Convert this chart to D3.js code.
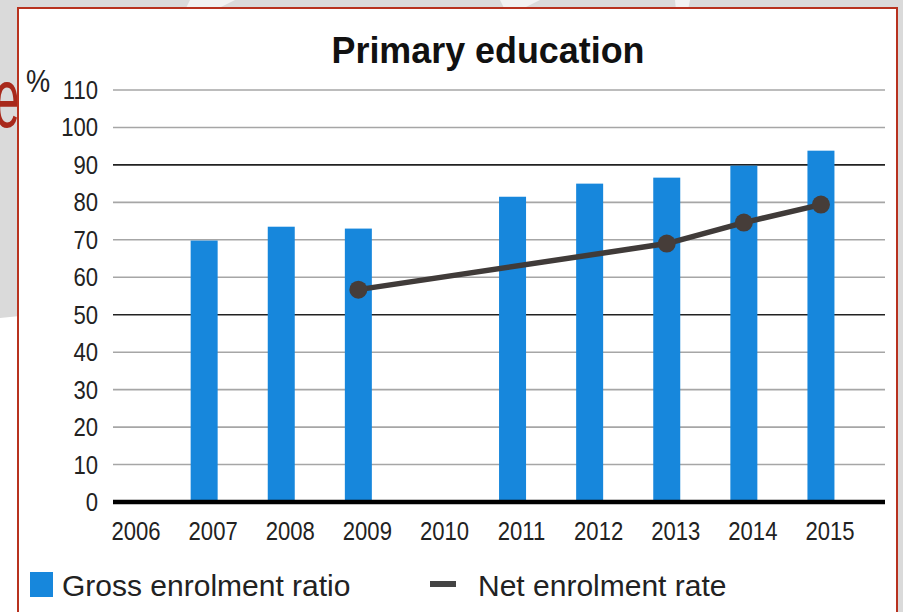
<!DOCTYPE html>
<html>
<head>
<meta charset="utf-8">
<script src="https://cdn.jsdelivr.net/npm/d3@7/dist/d3.min.js"></script>
<style>
  html, body { margin: 0; padding: 0; background: #d9d9d9; }
  svg { display: block; }
  text { font-family: "Liberation Sans", Arial, sans-serif; }
</style>
</head>
<body>
<svg id="chart" width="903" height="612"></svg>
<script>
const years = ["2006","2007","2008","2009","2010","2011","2012","2013","2014","2015"];
const grossEnrolment = [null, 69.8, 73.5, 73.0, null, 81.5, 85.0, 86.6, 89.8, 93.8];
const netEnrolment   = [null, null, null, 56.7, null, null, null, 69.0, 74.6, 79.4];
const yTicks = [0,10,20,30,40,50,60,70,80,90,100,110];
const title = "Primary education";
const unitLabel = "%";
const legendLabels = ["Gross enrolment ratio", "Net enrolment rate"];

const svg = d3.select("#chart");
const W = 903, H = 612;

// slide background
svg.append("rect").attr("width", W).attr("height", H).attr("fill", "#dadada");
svg.append("path").attr("d", "M0,318 L40,314 L40,612 L0,612 Z").attr("fill", "#ffffff");
svg.append("path").attr("d", "M190,0 L235,0 L215,10 L185,10 Z").attr("fill", "#f2f2f2");
svg.append("path").attr("d", "M500,0 L540,0 L520,10 L505,10 Z").attr("fill", "#f2f2f2");
svg.append("path").attr("d", "M675,0 L690,0 L688,10 L676,10 Z").attr("fill", "#f2f2f2");
svg.append("text").attr("transform", "translate(-6,127) scale(0.55,1)")
  .attr("font-size", 84)
  .attr("font-family", "Lato, 'Open Sans', sans-serif").attr("font-weight", 300)
  .attr("fill", "#a8291b").text("e");

// chart frame
svg.append("rect").attr("x", 18).attr("y", 8).attr("width", 879).attr("height", 620)
  .attr("fill", "#ffffff").attr("stroke", "#b8321f").attr("stroke-width", 2);

const x = d3.scaleBand().domain(years).range([88.5, 859.5]).padding(0);
const y = d3.scaleLinear().domain([0, 110]).range([502, 90]);
const xLeft = 113, xRight = 885;
const barW = 27;

// title
svg.append("text").attr("text-anchor", "middle")
  .attr("transform", "translate(488,63) scale(0.97,1)")
  .attr("font-size", 37).attr("font-weight", "bold").attr("fill", "#111")
  .text(title);

// gridlines
const darkLines = [90, 50];
svg.append("g").selectAll("line").data(yTicks.filter(d => d > 0)).join("line")
  .attr("x1", xLeft).attr("x2", xRight)
  .attr("y1", d => y(d)).attr("y2", d => y(d))
  .attr("stroke", d => darkLines.includes(d) ? "#222" : "#a6a6a6")
  .attr("stroke-width", 1.6);

// y axis labels
svg.append("g").selectAll("text").data(yTicks).join("text")
  .attr("transform", d => `translate(98,${y(d) + 9}) scale(0.85,1)`)
  .attr("text-anchor", "end").attr("font-size", 26).attr("fill", "#222")
  .text(d => d);
svg.append("text").attr("transform", "translate(26,92) scale(0.85,1)")
  .attr("font-size", 32).attr("fill", "#222").text(unitLabel);

// bars
const barData = years.map((yr, i) => ({yr, v: grossEnrolment[i]})).filter(d => d.v != null);
svg.append("g").selectAll("rect").data(barData).join("rect")
  .attr("x", d => x(d.yr) + x.bandwidth() / 2 - barW / 2)
  .attr("width", barW)
  .attr("y", d => y(d.v))
  .attr("height", d => y(0) - y(d.v))
  .attr("fill", "#1787dc");

// baseline
svg.append("line").attr("x1", xLeft).attr("x2", xRight)
  .attr("y1", y(0)).attr("y2", y(0)).attr("stroke", "#000").attr("stroke-width", 4.5);

// x labels
svg.append("g").selectAll("text").data(years).join("text")
  .attr("transform", d => `translate(${x(d) + x.bandwidth() / 2 + 9},540) scale(0.85,1)`)
  .attr("text-anchor", "middle").attr("font-size", 26).attr("fill", "#222")
  .text(d => d);

// net enrolment line
const netData = years.map((yr, i) => ({yr, v: netEnrolment[i]})).filter(d => d.v != null);
const line = d3.line().x(d => x(d.yr) + x.bandwidth() / 2).y(d => y(d.v));
svg.append("path").datum(netData).attr("d", line)
  .attr("fill", "none").attr("stroke", "#403b39").attr("stroke-width", 5.5)
  .attr("stroke-linejoin", "round");
svg.append("g").selectAll("circle").data(netData).join("circle")
  .attr("cx", d => x(d.yr) + x.bandwidth() / 2).attr("cy", d => y(d.v))
  .attr("r", 9).attr("fill", "#463d39");

// legend
svg.append("rect").attr("x", 30).attr("y", 572).attr("width", 23).attr("height", 25).attr("fill", "#1787dc");
svg.append("text").attr("transform", "translate(62,596) scale(1,1)")
  .attr("font-size", 30).attr("fill", "#222").text(legendLabels[0]);
svg.append("line").attr("x1", 430).attr("x2", 456).attr("y1", 584).attr("y2", 584)
  .attr("stroke", "#444").attr("stroke-width", 6);
svg.append("text").attr("transform", "translate(478,596) scale(1,1)")
  .attr("font-size", 30).attr("fill", "#222").text(legendLabels[1]);
</script>
</body>
</html>
